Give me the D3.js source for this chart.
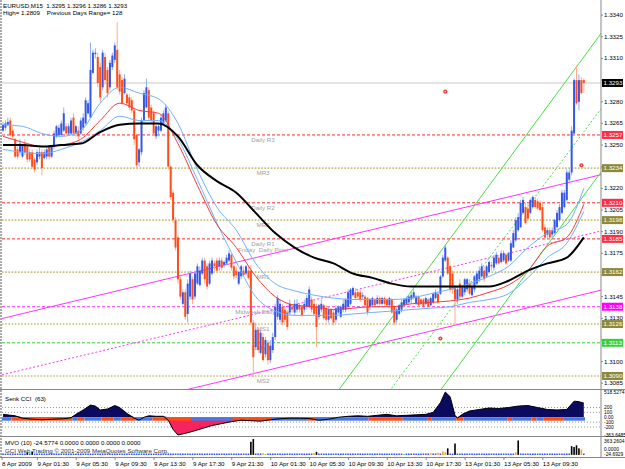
<!DOCTYPE html>
<html>
<head>
<meta charset="utf-8">
<script src="https://cdn.jsdelivr.net/npm/d3@7/dist/d3.min.js"></script>
<style>
  body { margin: 0; background: #fff; }
  svg text { font-family: "Liberation Sans", Arial, sans-serif; font-size: 6.2px; fill: #000; white-space: pre; }
  svg text.small { font-size: 4.9px; }
</style>
</head>
<body>
<div id="chart"></div>
<script>
// EURUSD M15 bars (240 bars)
var barOpen = [
1.3260,1.3262,1.3264,1.3267,1.3260,1.3254,1.3247,1.3245,1.3242,1.3251,
1.3249,1.3245,1.3245,1.3240,1.3238,1.3242,1.3245,1.3241,1.3242,1.3249,
1.3242,1.3249,1.3256,1.3257,1.3257,1.3260,1.3263,1.3258,1.3258,1.3269,
1.3258,1.3260,1.3258,1.3262,1.3265,1.3272,1.3269,1.3300,1.3313,1.3311,
1.3304,1.3290,1.3311,1.3302,1.3290,1.3304,1.3309,1.3316,1.3299,1.3295,
1.3286,1.3285,1.3283,1.3281,1.3274,1.3257,1.3238,1.3245,1.3267,1.3276,
1.3288,1.3276,1.3272,1.3256,1.3260,1.3260,1.3265,1.3267,1.3272,1.3235,
1.3217,1.3198,1.3186,1.3157,1.3140,1.3148,1.3133,1.3145,1.3157,1.3145,
1.3154,1.3153,1.3161,1.3170,1.3166,1.3154,1.3161,1.3168,1.3170,1.3166,
1.3170,1.3167,1.3168,1.3170,1.3174,1.3166,1.3163,1.3154,1.3159,1.3163,
1.3161,1.3163,1.3163,1.3127,1.3110,1.3122,1.3106,1.3117,1.3105,1.3113,
1.3101,1.3108,1.3117,1.3131,1.3129,1.3138,1.3136,1.3134,1.3134,1.3138,
1.3134,1.3136,1.3139,1.3138,1.3136,1.3138,1.3138,1.3143,1.3140,1.3138,
1.3131,1.3136,1.3139,1.3137,1.3129,1.3136,1.3134,1.3129,1.3134,1.3131,
1.3136,1.3136,1.3138,1.3140,1.3146,1.3148,1.3148,1.3148,1.3145,1.3145,
1.3144,1.3138,1.3139,1.3143,1.3140,1.3144,1.3140,1.3144,1.3143,1.3139,
1.3143,1.3138,1.3129,1.3133,1.3136,1.3139,1.3140,1.3141,1.3143,1.3144,
1.3140,1.3145,1.3143,1.3143,1.3140,1.3143,1.3139,1.3141,1.3144,1.3147,
1.3147,1.3159,1.3170,1.3172,1.3166,1.3161,1.3152,1.3143,1.3154,1.3145,
1.3148,1.3150,1.3154,1.3146,1.3150,1.3154,1.3157,1.3159,1.3163,1.3159,
1.3162,1.3167,1.3165,1.3168,1.3172,1.3169,1.3170,1.3174,1.3170,1.3170,
1.3179,1.3184,1.3191,1.3193,1.3203,1.3207,1.3206,1.3203,1.3207,1.3212,
1.3211,1.3210,1.3207,1.3193,1.3188,1.3191,1.3188,1.3189,1.3193,1.3198,
1.3203,1.3207,1.3212,1.3226,1.3231,1.3258,1.3295,1.3280,1.3295,1.3295];
var barHigh = [
1.3266,1.3267,1.3269,1.3269,1.3263,1.3255,1.3249,1.3254,1.3251,1.3254,
1.3250,1.3247,1.3247,1.3241,1.3247,1.3248,1.3247,1.3247,1.3249,1.3250,
1.3250,1.3260,1.3264,1.3264,1.3267,1.3276,1.3265,1.3265,1.3269,1.3272,
1.3264,1.3263,1.3269,1.3272,1.3283,1.3281,1.3321,1.3316,1.3317,1.3314,
1.3307,1.3316,1.3314,1.3304,1.3309,1.3314,1.3321,1.3335,1.3302,1.3297,
1.3299,1.3286,1.3285,1.3283,1.3276,1.3258,1.3248,1.3269,1.3288,1.3296,
1.3290,1.3278,1.3274,1.3264,1.3265,1.3271,1.3274,1.3278,1.3274,1.3236,
1.3219,1.3200,1.3188,1.3159,1.3150,1.3150,1.3157,1.3163,1.3159,1.3163,
1.3168,1.3166,1.3172,1.3172,1.3168,1.3170,1.3172,1.3170,1.3172,1.3172,
1.3172,1.3170,1.3174,1.3177,1.3175,1.3167,1.3166,1.3163,1.3167,1.3166,
1.3167,1.3166,1.3167,1.3129,1.3127,1.3124,1.3122,1.3120,1.3117,1.3115,
1.3115,1.3120,1.3140,1.3146,1.3143,1.3140,1.3138,1.3136,1.3143,1.3140,
1.3143,1.3143,1.3140,1.3139,1.3143,1.3146,1.3152,1.3145,1.3143,1.3140,
1.3140,1.3143,1.3140,1.3139,1.3138,1.3137,1.3136,1.3139,1.3139,1.3139,
1.3143,1.3144,1.3150,1.3151,1.3152,1.3151,1.3150,1.3150,1.3148,1.3146,
1.3145,1.3144,1.3145,1.3144,1.3146,1.3145,1.3145,1.3145,1.3144,1.3145,
1.3144,1.3139,1.3138,1.3140,1.3143,1.3144,1.3145,1.3146,1.3148,1.3150,
1.3146,1.3146,1.3144,1.3144,1.3145,1.3144,1.3145,1.3148,1.3150,1.3148,
1.3160,1.3174,1.3181,1.3173,1.3167,1.3163,1.3153,1.3151,1.3157,1.3153,
1.3158,1.3158,1.3157,1.3154,1.3160,1.3163,1.3166,1.3168,1.3166,1.3167,
1.3170,1.3169,1.3174,1.3176,1.3174,1.3177,1.3177,1.3175,1.3176,1.3184,
1.3191,1.3200,1.3203,1.3212,1.3214,1.3210,1.3209,1.3213,1.3215,1.3214,
1.3213,1.3212,1.3209,1.3195,1.3193,1.3193,1.3193,1.3199,1.3205,1.3209,
1.3219,1.3219,1.3233,1.3233,1.3263,1.3296,1.3305,1.3299,1.3297,1.3296];
var barLow = [
1.3259,1.3260,1.3263,1.3256,1.3254,1.3241,1.3240,1.3243,1.3241,1.3243,
1.3238,1.3238,1.3234,1.3231,1.3236,1.3240,1.3229,1.3240,1.3240,1.3240,
1.3241,1.3247,1.3255,1.3256,1.3256,1.3259,1.3257,1.3257,1.3257,1.3257,
1.3256,1.3254,1.3257,1.3260,1.3264,1.3271,1.3269,1.3299,1.3310,1.3290,
1.3279,1.3288,1.3292,1.3283,1.3288,1.3302,1.3307,1.3288,1.3285,1.3278,
1.3285,1.3278,1.3274,1.3272,1.3250,1.3234,1.3235,1.3243,1.3266,1.3276,
1.3267,1.3265,1.3257,1.3254,1.3256,1.3259,1.3264,1.3266,1.3233,1.3212,
1.3196,1.3177,1.3154,1.3143,1.3139,1.3129,1.3127,1.3143,1.3140,1.3143,
1.3153,1.3152,1.3160,1.3154,1.3150,1.3153,1.3160,1.3163,1.3162,1.3163,
1.3163,1.3165,1.3167,1.3169,1.3163,1.3157,1.3158,1.3153,1.3157,1.3159,
1.3160,1.3157,1.3125,1.3089,1.3108,1.3106,1.3105,1.3100,1.3103,1.3098,
1.3099,1.3106,1.3115,1.3129,1.3127,1.3125,1.3127,1.3122,1.3132,1.3134,
1.3132,1.3134,1.3134,1.3131,1.3134,1.3136,1.3137,1.3134,1.3132,1.3110,
1.3129,1.3134,1.3129,1.3127,1.3127,1.3129,1.3125,1.3127,1.3133,1.3130,
1.3134,1.3134,1.3137,1.3139,1.3145,1.3143,1.3143,1.3141,1.3143,1.3138,
1.3132,1.3136,1.3138,1.3138,1.3139,1.3139,1.3139,1.3139,1.3138,1.3138,
1.3133,1.3125,1.3127,1.3132,1.3134,1.3138,1.3139,1.3140,1.3140,1.3143,
1.3139,1.3138,1.3139,1.3137,1.3139,1.3137,1.3138,1.3140,1.3143,1.3140,
1.3146,1.3158,1.3169,1.3160,1.3148,1.3147,1.3125,1.3140,1.3143,1.3144,
1.3146,1.3148,1.3146,1.3145,1.3148,1.3153,1.3155,1.3158,1.3155,1.3158,
1.3161,1.3163,1.3163,1.3167,1.3167,1.3168,1.3169,1.3167,1.3169,1.3169,
1.3179,1.3183,1.3190,1.3193,1.3202,1.3195,1.3198,1.3202,1.3206,1.3206,
1.3205,1.3204,1.3190,1.3184,1.3186,1.3184,1.3186,1.3188,1.3193,1.3197,
1.3202,1.3206,1.3211,1.3224,1.3229,1.3257,1.3278,1.3274,1.3285,1.3286];
var barClose = [
1.3264,1.3265,1.3266,1.3257,1.3256,1.3242,1.3242,1.3251,1.3250,1.3245,
1.3240,1.3240,1.3235,1.3233,1.3245,1.3245,1.3234,1.3245,1.3247,1.3242,
1.3249,1.3258,1.3263,1.3262,1.3265,1.3272,1.3258,1.3263,1.3267,1.3258,
1.3263,1.3256,1.3267,1.3269,1.3281,1.3279,1.3302,1.3314,1.3314,1.3293,
1.3283,1.3314,1.3295,1.3286,1.3307,1.3312,1.3319,1.3290,1.3287,1.3279,
1.3296,1.3279,1.3276,1.3274,1.3254,1.3236,1.3247,1.3267,1.3286,1.3290,
1.3269,1.3267,1.3258,1.3263,1.3263,1.3269,1.3272,1.3276,1.3235,1.3214,
1.3198,1.3179,1.3157,1.3145,1.3148,1.3131,1.3154,1.3161,1.3143,1.3161,
1.3166,1.3163,1.3170,1.3157,1.3152,1.3168,1.3170,1.3166,1.3163,1.3170,
1.3165,1.3169,1.3172,1.3175,1.3165,1.3159,1.3160,1.3162,1.3166,1.3160,
1.3166,1.3158,1.3127,1.3103,1.3122,1.3108,1.3120,1.3101,1.3115,1.3101,
1.3111,1.3117,1.3138,1.3144,1.3140,1.3127,1.3129,1.3124,1.3140,1.3136,
1.3140,1.3140,1.3136,1.3132,1.3140,1.3144,1.3150,1.3136,1.3133,1.3124,
1.3139,1.3140,1.3130,1.3129,1.3136,1.3130,1.3127,1.3137,1.3138,1.3138,
1.3140,1.3143,1.3148,1.3150,1.3151,1.3144,1.3145,1.3143,1.3146,1.3139,
1.3134,1.3143,1.3144,1.3139,1.3144,1.3140,1.3144,1.3140,1.3139,1.3144,
1.3134,1.3127,1.3136,1.3139,1.3141,1.3143,1.3144,1.3145,1.3146,1.3148,
1.3145,1.3139,1.3140,1.3138,1.3144,1.3138,1.3144,1.3147,1.3148,1.3141,
1.3159,1.3172,1.3179,1.3161,1.3150,1.3150,1.3143,1.3150,1.3145,1.3152,
1.3157,1.3157,1.3147,1.3152,1.3159,1.3161,1.3163,1.3166,1.3157,1.3166,
1.3169,1.3166,1.3172,1.3174,1.3168,1.3175,1.3175,1.3168,1.3175,1.3182,
1.3189,1.3198,1.3200,1.3210,1.3212,1.3196,1.3199,1.3212,1.3214,1.3207,
1.3206,1.3205,1.3191,1.3186,1.3191,1.3186,1.3191,1.3198,1.3203,1.3207,
1.3217,1.3217,1.3231,1.3231,1.3260,1.3295,1.3279,1.3295,1.3286,1.3293];

// moving averages, read every 8 bars
var maBars = [0,8,16,24,32,40,48,56,64,72,80,88,96,104,112,120,128,136,144,152,160,168,176,184,192,200,208,216,224,232,239];
var maSlow = [1.3250,1.3250,1.3249,1.3250,1.3251,1.3259,1.3264,1.3265,1.3265,1.3256,1.3236,1.3225,1.3217,1.3203,1.3189,1.3179,
              1.3172,1.3168,1.3161,1.3158,1.3154,1.3152,1.3152,1.3152,1.3152,1.3152,1.3156,1.3163,1.3168,1.3172,1.3186];
var maMid  = [1.3256,1.3252,1.3249,1.3250,1.3254,1.3267,1.3279,1.3274,1.3272,1.3251,1.3222,1.3195,1.3179,1.3159,1.3145,1.3139,
              1.3138,1.3136,1.3137,1.3138,1.3138,1.3140,1.3141,1.3142,1.3144,1.3148,1.3153,1.3163,1.3180,1.3186,1.3209];
var maUp   = [1.3264,1.3263,1.3258,1.3256,1.3260,1.3279,1.3290,1.3286,1.3282,1.3265,1.3233,1.3207,1.3191,1.3168,1.3154,1.3149,
              1.3146,1.3144,1.3143,1.3143,1.3143,1.3144,1.3147,1.3150,1.3154,1.3159,1.3166,1.3179,1.3189,1.3195,1.3220];
var maDn   = [1.3247,1.3245,1.3244,1.3247,1.3252,1.3260,1.3270,1.3267,1.3267,1.3254,1.3226,1.3196,1.3169,1.3145,1.3135,1.3132,
              1.3132,1.3132,1.3133,1.3134,1.3135,1.3136,1.3137,1.3138,1.3141,1.3143,1.3147,1.3158,1.3172,1.3182,1.3204];

// pivot levels
var levelPrice = [1.3257,1.3234,1.3210,1.3198,1.3185,1.3162,1.3138,1.3126,1.3113,1.3090];
var levelName  = ["Daily R3","MR3","Daily R2","MR2","Daily R1","MR1","Midweek Daily Pivot","MS1","Daily S1","MS2"];
var levelKind  = ["red","olive","red","olive","red","olive","magenta","olive","green","olive"];

// trend lines: two anchor points each (bar, price)
var trendBarA   = [0,0,0,169.5,175.7,197];
var trendPriceA = [1.3130,1.3091,1.3050,1.3152,1.3117,1.3119];
var trendBarB   = [240,240,240,238.1,241.6,241.6];
var trendPriceB = [1.3227,1.3188,1.3147,1.3309,1.3265,1.3221];
var trendKind   = ["magenta","magentaDot","magenta","green","greenDot","green"];

// fractal style markers
var markBar = [180,182,238];
var markPrice = [1.3116,1.3287,1.3236];

// price axis ticks
var priceTicks = [1.3340,1.3325,1.3310,1.3295,1.3280,1.3265,1.3250,1.3235,1.3220,1.3205,1.3190,1.3175,1.3160,1.3145,1.3130,1.3115,1.3100,1.3085];

// time axis
var timeBars = [0,16,32,48,64,80,96,112,128,144,160,176,192,208,224];
var timeLabels = ["8 Apr 2009","9 Apr 01:30","9 Apr 05:30","9 Apr 09:30","9 Apr 13:30","9 Apr 17:30","9 Apr 21:30",
                  "10 Apr 01:30","10 Apr 05:30","10 Apr 09:30","10 Apr 13:30","10 Apr 17:30","13 Apr 01:30","13 Apr 05:30","13 Apr 09:30"];

// Senk CCI (63)
var cciBars = [0,5,8,12,16,20,25,28,30,33,36,38,40,43,46,48,51,54,56,58,60,63,66,68,70,72,75,78,82,86,
               90,94,98,102,106,110,114,118,122,126,130,134,138,142,146,150,154,158,162,166,170,174,177,180,182,184,186,187,189,192,
               196,200,204,208,212,216,220,224,228,232,235,237,239];
var cciVals = [60,30,-20,-40,-50,-40,-30,-10,60,150,250,230,150,170,240,200,80,-20,-60,0,30,20,20,-60,-250,-363,-330,-290,-230,-170,
               -130,-90,-60,-70,-80,-50,-30,-20,-20,-25,-60,-40,0,20,30,20,40,60,30,40,50,60,100,300,518,420,40,-20,60,130,
               160,190,180,200,230,240,200,160,150,160,330,320,290];
var cciLevels = [200,100,-100,-200];
var bandFrom = [0,4,29,31,34,41,46,49,55,62,78,95,111,126,129,151,165,175,177,187,190,208,210,218,220,223,231];
var bandTo   = [3,28,30,33,40,45,48,54,61,77,94,110,125,128,150,164,174,176,186,189,207,209,217,219,222,230,239];
var bandUp   = [1,0,1,0,1,0,1,0,1,0,1,0,1,0,1,0,1,0,1,0,1,0,1,0,1,0,1];

// MVO (10): bars that stand out from the base line
var mvoBars = [10,12,102,103,107,108,128,129,165,176,179,181,182,183,186,211,212,234,235,236,237,238];
var mvoVals = [60,80,300,363,40,20,40,70,20,40,50,80,60,150,260,60,330,200,180,220,150,120];
var mvoKind = ["k","k","k","k","o","g","o","k","g","o","o","o","o","k","k","o","k","k","k","k","k","o"];

var width = 625, height = 469;
var left = 2, right = 601;

var svg = d3.select("#chart").append("svg")
    .attr("width", width)
    .attr("height", height);

var x = d3.scaleLinear().domain([0, 239]).range([3, 583.8]);
var y = d3.scaleLinear().domain([1.3081, 1.33491]).range([389, 2]);
var yCci = d3.scaleLinear().domain([-363.6485, 518.5274]).range([435, 392]);
var yVol = d3.scaleLinear().domain([-24.6929, 363.2604]).range([456, 439]);

svg.append("clipPath").attr("id", "mainClip")
    .append("rect").attr("x", left).attr("y", 0).attr("width", right - left).attr("height", 389);
var main = svg.append("g").attr("clip-path", "url(#mainClip)");

var levelStyle = {
    red:     {stroke: "#ff2a2a", dash: "3,2", w: 1},
    olive:   {stroke: "#c4bd78", dash: "1.6,1.6", w: 1.6},
    magenta: {stroke: "#ff33ff", dash: "3,2", w: 1},
    green:   {stroke: "#33cc33", dash: "3,2", w: 1}
};
var boxColor = {red: "#ff2d45", olive: "#8c8a3a", magenta: "#ff00ff", green: "#3ccf3c"};

// pivot level lines
levelPrice.forEach(function(p, i) {
    var st = levelStyle[levelKind[i]];
    main.append("line")
        .attr("x1", left).attr("x2", right)
        .attr("y1", y(p)).attr("y2", y(p))
        .style("stroke", st.stroke).style("stroke-width", st.w)
        .style("stroke-dasharray", st.dash);
});

// current price line
main.append("line")
    .attr("x1", left).attr("x2", right)
    .attr("y1", y(barClose[239])).attr("y2", y(barClose[239]))
    .style("stroke", "#c8c8c8");

// trend lines extended over the whole pane
var trendStyle = {
    magenta:    {stroke: "#ff33ff", dash: null},
    magentaDot: {stroke: "#ff33ff", dash: "2,2"},
    green:      {stroke: "#44dd44", dash: null},
    greenDot:   {stroke: "#44dd44", dash: "2,2"}
};
trendKind.forEach(function(k, i) {
    var slope = (trendPriceB[i] - trendPriceA[i]) / (trendBarB[i] - trendBarA[i]);
    var b0 = -2, b1 = 250;
    var st = trendStyle[k];
    main.append("line")
        .attr("x1", x(b0)).attr("x2", x(b1))
        .attr("y1", y(trendPriceA[i] + slope * (b0 - trendBarA[i])))
        .attr("y2", y(trendPriceA[i] + slope * (b1 - trendBarA[i])))
        .style("stroke", st.stroke)
        .style("stroke-dasharray", st.dash);
});

// pivot level names
levelPrice.forEach(function(p, i) {
    main.append("text")
        .attr("x", x(107)).attr("y", y(p) + 7)
        .attr("text-anchor", "middle")
        .style("fill", "#a0a0a0")
        .text(levelName[i]);
});
main.append("text")
    .attr("x", x(107)).attr("y", y(1.3185) + 13)
    .attr("text-anchor", "middle")
    .style("fill", "#a0a0a0")
    .text("Friday  Daily Pivot");

// candles
var bars = d3.range(barOpen.length);
main.selectAll(".wick").data(bars).enter().append("line")
    .attr("x1", function(i) { return x(i); })
    .attr("x2", function(i) { return x(i); })
    .attr("y1", function(i) { return y(barHigh[i]); })
    .attr("y2", function(i) { return y(barLow[i]); })
    .style("stroke", function(i) { return barClose[i] >= barOpen[i] ? "#93acf2" : "#ffab8c"; })
    .style("stroke-width", 1);
main.selectAll(".body").data(bars).enter().append("rect")
    .attr("x", function(i) { return x(i) - 1; })
    .attr("width", 2)
    .attr("y", function(i) { return y(Math.max(barOpen[i], barClose[i])); })
    .attr("height", function(i) { return Math.max(1, Math.abs(y(barOpen[i]) - y(barClose[i]))); })
    .style("fill", function(i) { return barClose[i] >= barOpen[i] ? "#3558e6" : "#ff4d1a"; });

// moving averages
function maLine(vals) {
    return d3.line()
        .x(function(d, i) { return x(maBars[i]); })
        .y(function(d) { return y(d); })
        .curve(d3.curveMonotoneX)(vals);
}
main.append("path").attr("d", maLine(maUp)).style("fill", "none").style("stroke", "#6fb1ff");
main.append("path").attr("d", maLine(maDn)).style("fill", "none").style("stroke", "#6fb1ff");
main.append("path").attr("d", maLine(maMid)).style("fill", "none").style("stroke", "#f03c3c");
main.append("path").attr("d", maLine(maSlow)).style("fill", "none").style("stroke", "#000").style("stroke-width", 2);

// markers
markBar.forEach(function(b, i) {
    main.append("circle").attr("cx", x(b)).attr("cy", y(markPrice[i])).attr("r", 2.1).style("fill", "#f03a3a");
    main.append("circle").attr("cx", x(b)).attr("cy", y(markPrice[i])).attr("r", 0.8).style("fill", "#ffc0c0");
});

// header
svg.append("text").attr("x", 3).attr("y", 8).text("EURUSD,M15  1.3295 1.3296 1.3286 1.3293");
svg.append("text").attr("x", 3).attr("y", 15).text("High= 1.2809    Previous Days Range= 128");

// frame
svg.append("line").attr("x1", 1).attr("x2", 1).attr("y1", 0).attr("y2", 457)
    .style("stroke", "#555").style("stroke-dasharray", "2,1");
svg.append("line").attr("x1", right).attr("x2", right).attr("y1", 0).attr("y2", 457).style("stroke", "#888");
[389.5, 436.5, 457.5].forEach(function(v) {
    svg.append("line").attr("x1", 0).attr("x2", width).attr("y1", v).attr("y2", v).style("stroke", "#888");
});

// price axis
var boxPrice = [barClose[239]].concat(levelPrice);
var boxKind = ["black"].concat(levelKind);
priceTicks.forEach(function(p) {
    var hidden = boxPrice.some(function(b) { return Math.abs(y(b) - y(p)) < 5.5; });
    svg.append("line").attr("x1", right).attr("x2", right + 2).attr("y1", y(p)).attr("y2", y(p)).style("stroke", "#888");
    if (!hidden) {
        svg.append("text").attr("x", 604).attr("y", y(p) + 2).text(p.toFixed(4));
    }
});
boxPrice.forEach(function(p, i) {
    var c = boxKind[i] === "black" ? "#000" : boxColor[boxKind[i]];
    svg.append("rect").attr("x", 602).attr("y", y(p) - 4).attr("width", 21).attr("height", 8).style("fill", c);
    svg.append("text").attr("x", 603.5).attr("y", y(p) + 2.2).style("fill", "#fff").text(p.toFixed(4));
});

// CCI pane
svg.append("text").attr("x", 5).attr("y", 401).text("Senk CCI  (63)");
cciLevels.forEach(function(v) {
    svg.append("line").attr("x1", left).attr("x2", right).attr("y1", yCci(v)).attr("y2", yCci(v))
        .style("stroke", "#999").style("stroke-dasharray", "1,2");
});
var cciPts = cciBars.map(function(b, i) { return [b, cciVals[i]]; });
svg.append("path")
    .attr("d", d3.area().x(function(d) { return x(d[0]); })
        .y0(yCci(0)).y1(function(d) { return yCci(Math.max(0, d[1])); })(cciPts))
    .style("fill", "#0a0a5e");
svg.append("path")
    .attr("d", d3.area().x(function(d) { return x(d[0]); })
        .y0(yCci(0)).y1(function(d) { return yCci(Math.min(0, d[1])); })(cciPts))
    .style("fill", "#f5245f");
bandFrom.forEach(function(b, i) {
    svg.append("rect")
        .attr("x", x(b) - 1.2).attr("width", x(bandTo[i]) - x(b) + 2.4)
        .attr("y", yCci(0)).attr("height", yCci(-70) - yCci(0))
        .style("fill", bandUp[i] ? "#4a78e0" : "#ff4a12");
});
svg.append("path")
    .attr("d", d3.line().x(function(d) { return x(d[0]); }).y(function(d) { return yCci(d[1]); })(cciPts))
    .style("fill", "none").style("stroke", "#000");
var cciAxis = [[518.5274, "518.5274"], [200, "200"], [100, "100"], [0, "0.00"], [-100, "-100"], [-200, "-200"], [-363.6485, "-363.6485"]];
cciAxis.forEach(function(d) {
    svg.append("text").attr("class", "small").attr("x", 604).attr("y", yCci(d[0]) + 1.7).text(d[1]);
});

// MVO pane
svg.append("text").attr("x", 5).attr("y", 445).text("MVO (10) -24.5774 0.0000 0.0000 0.0000 0.0000");
var mvoColor = {k: "#000", o: "#ff9a1a", g: "#33cc33"};
bars.forEach(function(i) {
    var j = mvoBars.indexOf(i);
    if (j < 0) {
        svg.append("rect").attr("x", x(i) - 0.8).attr("y", yVol(0) - 1.4).attr("width", 1.6).attr("height", 1.4)
            .style("fill", "#2244ff");
    } else {
        svg.append("rect").attr("x", x(i) - 0.8).attr("y", yVol(mvoVals[j])).attr("width", 1.6)
            .attr("height", yVol(0) - yVol(mvoVals[j])).style("fill", mvoColor[mvoKind[j]]);
    }
});
svg.append("text").attr("x", 5).attr("y", 453).style("fill", "#333")
    .text("GCI Web Trading \u00a9 2001-2009 MetaQuotes Software Corp.");
svg.append("text").attr("class", "small").attr("x", 604).attr("y", 443).text("363.2604");
svg.append("text").attr("class", "small").attr("x", 604).attr("y", 451).text("0.0000");
svg.append("text").attr("class", "small").attr("x", 604).attr("y", 456).text("-24.6929");

// time axis
timeBars.forEach(function(b, i) {
    var tx = Math.max(2, x(b) - 4.5);
    svg.append("line").attr("x1", tx).attr("x2", tx).attr("y1", 457).attr("y2", 460).style("stroke", "#888");
    svg.append("text").attr("x", tx).attr("y", 466).text(timeLabels[i]);
});
</script>
</body>
</html>
